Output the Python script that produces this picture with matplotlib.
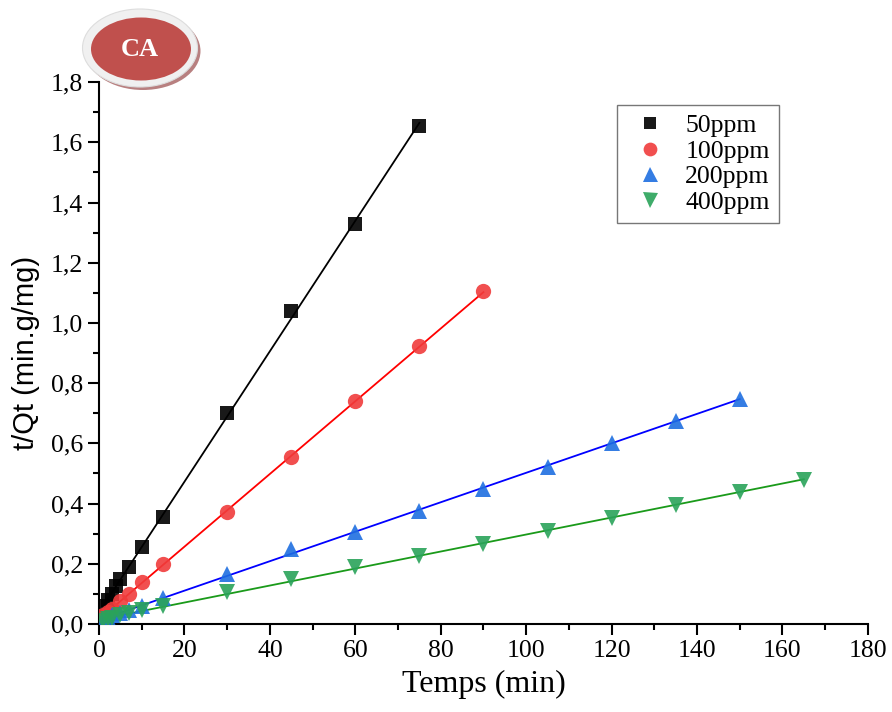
import numpy as np
import matplotlib
matplotlib.use("Agg")
import matplotlib.pyplot as plt
from matplotlib.patches import Ellipse
from matplotlib.ticker import MultipleLocator, FuncFormatter

# t/Qt en fonction du temps pour chaque concentration initiale
t_50 = [1, 2, 3, 4, 5, 7, 10, 15, 30, 45, 60, 75]
q_50 = [0.06, 0.08, 0.10, 0.125, 0.15, 0.19, 0.255, 0.355, 0.70, 1.04, 1.33, 1.655]

t_100 = [1, 2, 3, 5, 7, 10, 15, 30, 45, 60, 75, 90]
q_100 = [0.03, 0.04, 0.05, 0.075, 0.10, 0.138, 0.20, 0.372, 0.555, 0.74, 0.922, 1.105]

t_200 = [1, 2, 3, 5, 7, 10, 15, 30, 45, 60, 75, 90, 105, 120, 135, 150]
q_200 = [0.015, 0.02, 0.03, 0.035, 0.045, 0.06, 0.085, 0.165, 0.25, 0.305, 0.375,
         0.45, 0.523, 0.60, 0.675, 0.748]

t_400 = [1, 2, 3, 5, 7, 10, 15, 30, 45, 60, 75, 90, 105, 120, 135, 150, 165]
q_400 = [0.01, 0.015, 0.02, 0.03, 0.035, 0.045, 0.06, 0.105, 0.15, 0.19, 0.225,
         0.265, 0.31, 0.352, 0.395, 0.44, 0.48]

labels = ["50ppm", "100ppm", "200ppm", "400ppm"]

series = [
    (t_50, q_50, "s", 10, "#000000", "#000000"),
    (t_100, q_100, "o", 11, "#f03c3c", "#ff0000"),
    (t_200, q_200, "^", 12, "#1f6fe0", "#0000ff"),
    (t_400, q_400, "v", 12, "#2aa35a", "#1a9a1a"),
]

fig = plt.figure(figsize=(8.92, 7.12), dpi=100)
ax = fig.add_axes([0.111, 0.1236, 0.862, 0.761])

for (t, q, m, ms, mc, lc), lab in zip(series, labels):
    t = np.array(t, dtype=float)
    q = np.array(q, dtype=float)
    a, b = np.polyfit(t, q, 1)
    xs = np.array([t.min(), t.max()])
    ax.plot(xs, a * xs + b, color=lc, lw=1.3, zorder=2)
    ax.plot(t, q, ls="none", marker=m, ms=ms, color=mc, alpha=0.9,
            markeredgewidth=0, label=lab, zorder=3)

ax.set_xlim(0, 180)
ax.set_ylim(0, 1.8)
ax.xaxis.set_major_locator(MultipleLocator(20))
ax.xaxis.set_minor_locator(MultipleLocator(10))
ax.yaxis.set_major_locator(MultipleLocator(0.2))
ax.yaxis.set_minor_locator(MultipleLocator(0.1))
ax.yaxis.set_major_formatter(FuncFormatter(lambda v, p: f"{v:.1f}".replace(".", ",")))

for s in ["top", "right"]:
    ax.spines[s].set_visible(False)
for s in ["left", "bottom"]:
    ax.spines[s].set_linewidth(1.5)

ax.tick_params(which="major", direction="out", length=8, width=1.5)
ax.tick_params(which="minor", direction="out", length=4, width=1.5)
for lbl in ax.get_xticklabels() + ax.get_yticklabels():
    lbl.set_fontfamily("Liberation Serif")
    lbl.set_fontsize(18.5)

ax.set_xlabel("Temps (min)", fontfamily="Liberation Serif", fontsize=23, labelpad=6)
ax.set_ylabel("t/Qt (min.g/mg)", fontfamily="Liberation Sans", fontsize=21, labelpad=8)

leg = ax.legend(loc="upper left", bbox_to_anchor=(0.674, 0.9575), frameon=True,
                fancybox=False, prop={"family": "Liberation Serif", "size": 18.5},
                handletextpad=0.45, labelspacing=0.1, borderpad=0.35, handlelength=1.85,
                borderaxespad=0, markerscale=0.9)
leg.get_frame().set_edgecolor("#555555")
leg.get_frame().set_linewidth(1.0)

# badge "CA" en haut a gauche
W, H = fig.get_size_inches() * fig.dpi
def fx(px):
    return px / W
def fy(py):
    return 1 - py / H

fig.patches.append(Ellipse((fx(143), fy(51)), 115 / W, 78 / H, transform=fig.transFigure,
                           facecolor="#b88080", edgecolor="none", zorder=5))
fig.patches.append(Ellipse((fx(140), fy(48)), 115 / W, 78 / H, transform=fig.transFigure,
                           facecolor="#f0f0f0", edgecolor="#dddddd", lw=0.8, zorder=6))
fig.patches.append(Ellipse((fx(141), fy(49)), 100 / W, 63 / H, transform=fig.transFigure,
                           facecolor="#c0504d", edgecolor="none", zorder=7))
fig.text(fx(140), fy(49), "CA", ha="center", va="center", color="white",
         fontfamily="Liberation Serif", fontweight="bold", fontsize=19, zorder=8)

fig.savefig("out.png", dpi=100)
